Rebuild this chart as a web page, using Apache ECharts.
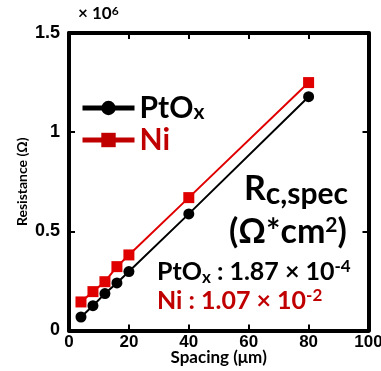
<!DOCTYPE html>
<html>
<head>
<meta charset="utf-8">
<script src="https://cdn.jsdelivr.net/npm/echarts@6/dist/echarts.min.js"></script>
<style>
  html, body { margin: 0; padding: 0; background: #fff; }
  #chart { width: 381px; height: 371px; }
</style>
</head>
<body>
<div id="chart"></div>
<script>
// spacing in um, resistance in units of 1e6 ohm
const spacing = [4, 8, 12, 16, 20, 40, 80];
const ptoxRes = [0.068, 0.125, 0.186, 0.240, 0.297, 0.588, 1.179];
const niRes = [0.144, 0.196, 0.246, 0.322, 0.381, 0.670, 1.250];
const xTicks = [0, 20, 40, 60, 80, 100];
const yTicks = [0, 0.5, 1, 1.5];

const FONT = 'Lato, "Open Sans", sans-serif';
const TICKFONT = '"Liberation Sans", Arial, sans-serif';
const RED = '#e00000';
const DARKRED = '#c00000';

const toPairs = (xs, ys) => xs.map((x, i) => [x, ys[i]]);

const chart = echarts.init(document.getElementById('chart'));

const axisCommon = {
  axisLine: { show: true, onZero: false, lineStyle: { color: '#000', width: 4 } },
  axisTick: { show: true, inside: true, length: 6, lineStyle: { color: '#000', width: 2 } },
  splitLine: { show: false }
};

const option = {
  animation: false,
  grid: { left: 69, right: 12.5, top: 33, bottom: 40.5, outerBoundsMode: 'none', containLabel: false },
  legend: {
    left: 75,
    top: 88,
    orient: 'vertical',
    itemWidth: 52,
    itemHeight: 18,
    itemGap: 2,
    lineStyle: { width: 5 },
    data: [
      { name: 'PtOx', textStyle: { color: '#000' } },
      { name: 'Ni', textStyle: { color: DARKRED }, itemStyle: { color: DARKRED }, lineStyle: { color: DARKRED } }
    ],
    formatter: name => name === 'PtOx' ? '{a|PtO}{s|x}' : '{a|Ni}',
    textStyle: {
      fontFamily: FONT,
      fontWeight: 'bold',
      rich: {
        a: { fontSize: 30, fontWeight: 'bold', fontFamily: FONT, lineHeight: 30 },
        s: { fontSize: 21, fontWeight: 'bold', fontFamily: FONT, lineHeight: 10, verticalAlign: 'bottom' }
      }
    }
  },
  xAxis: [
    Object.assign({
      type: 'value', min: 0, max: 100, interval: 20, position: 'bottom',
      name: 'Spacing (μm)', nameLocation: 'middle', nameGap: 19, nameMoveOverlap: false,
      nameTextStyle: { fontFamily: FONT, fontWeight: 'bold', fontSize: 17, color: '#000' },
      axisLabel: { fontFamily: TICKFONT, fontWeight: 'bold', fontSize: 17, color: '#000', margin: 3,
        formatter: v => xTicks.includes(v) ? String(v) : '' }
    }, axisCommon),
    Object.assign({
      type: 'value', min: 0, max: 100, interval: 20, position: 'top',
      axisLabel: { show: false }
    }, axisCommon)
  ],
  yAxis: [
    Object.assign({
      type: 'value', min: 0, max: 1.5, interval: 0.5, position: 'left',
      name: 'Resistance (Ω)', nameLocation: 'middle', nameGap: 40, nameMoveOverlap: false,
      nameTextStyle: { fontFamily: FONT, fontWeight: 'bold', fontSize: 14, color: '#000' },
      axisLabel: { fontFamily: TICKFONT, fontWeight: 'bold', fontSize: 18, color: '#000', margin: 9,
        formatter: v => yTicks.includes(v) ? String(v) : '' }
    }, axisCommon),
    Object.assign({
      type: 'value', min: 0, max: 1.5, interval: 0.5, position: 'right',
      axisLabel: { show: false }
    }, axisCommon)
  ],
  series: [
    {
      name: 'PtOx', type: 'line', data: toPairs(spacing, ptoxRes),
      symbol: 'circle', symbolSize: 11,
      itemStyle: { color: '#000' },
      lineStyle: { color: '#000', width: 2 },
      z: 3
    },
    {
      name: 'Ni', type: 'line', data: toPairs(spacing, niRes),
      symbol: 'rect', symbolSize: 11,
      itemStyle: { color: RED },
      lineStyle: { color: RED, width: 2 },
      z: 2
    }
  ],
  graphic: [
    {
      type: 'text', left: 78, top: 5,
      style: {
        text: '× 10{sup|6}', fill: '#000',
        font: 'bold 17px ' + FONT,
        rich: { sup: { fontSize: 12, fontWeight: 'bold', fontFamily: FONT, verticalAlign: 'top', lineHeight: 12 } }
      }
    },
    {
      type: 'text', left: 244, top: 172,
      style: {
        text: '{R|R}{sub|c,spec}', fill: '#000',
        rich: {
          R: { fontSize: 34, fontWeight: 'bold', fontFamily: FONT, lineHeight: 40 },
          sub: { fontSize: 30, fontWeight: 'bold', fontFamily: FONT, lineHeight: 32, verticalAlign: 'bottom' }
        }
      }
    },
    {
      type: 'text', left: 229, top: 215,
      style: {
        text: '(Ω*cm{sup|2})', fill: '#000',
        font: 'bold 34px ' + FONT,
        rich: { sup: { fontSize: 21, fontWeight: 'bold', fontFamily: FONT, verticalAlign: 'top', lineHeight: 14 } }
      }
    },
    {
      type: 'text', left: 157, top: 258,
      style: {
        text: '{a|PtO}{s|x}{a| : 1.87 × 10}{p|-4}', fill: '#000',
        rich: {
          a: { fontSize: 25, fontWeight: 'bold', fontFamily: FONT, lineHeight: 28 },
          s: { fontSize: 17, fontWeight: 'bold', fontFamily: FONT, lineHeight: 8, verticalAlign: 'bottom' },
          p: { fontSize: 17, fontWeight: 'bold', fontFamily: FONT, lineHeight: 10, verticalAlign: 'top' }
        }
      }
    },
    {
      type: 'text', left: 157, top: 287,
      style: {
        text: '{a|Ni : 1.07 × 10}{p|-2}', fill: DARKRED,
        rich: {
          a: { fontSize: 25, fontWeight: 'bold', fontFamily: FONT, lineHeight: 28 },
          p: { fontSize: 17, fontWeight: 'bold', fontFamily: FONT, lineHeight: 10, verticalAlign: 'top' }
        }
      }
    }
  ]
};

chart.setOption(option);
</script>
</body>
</html>
